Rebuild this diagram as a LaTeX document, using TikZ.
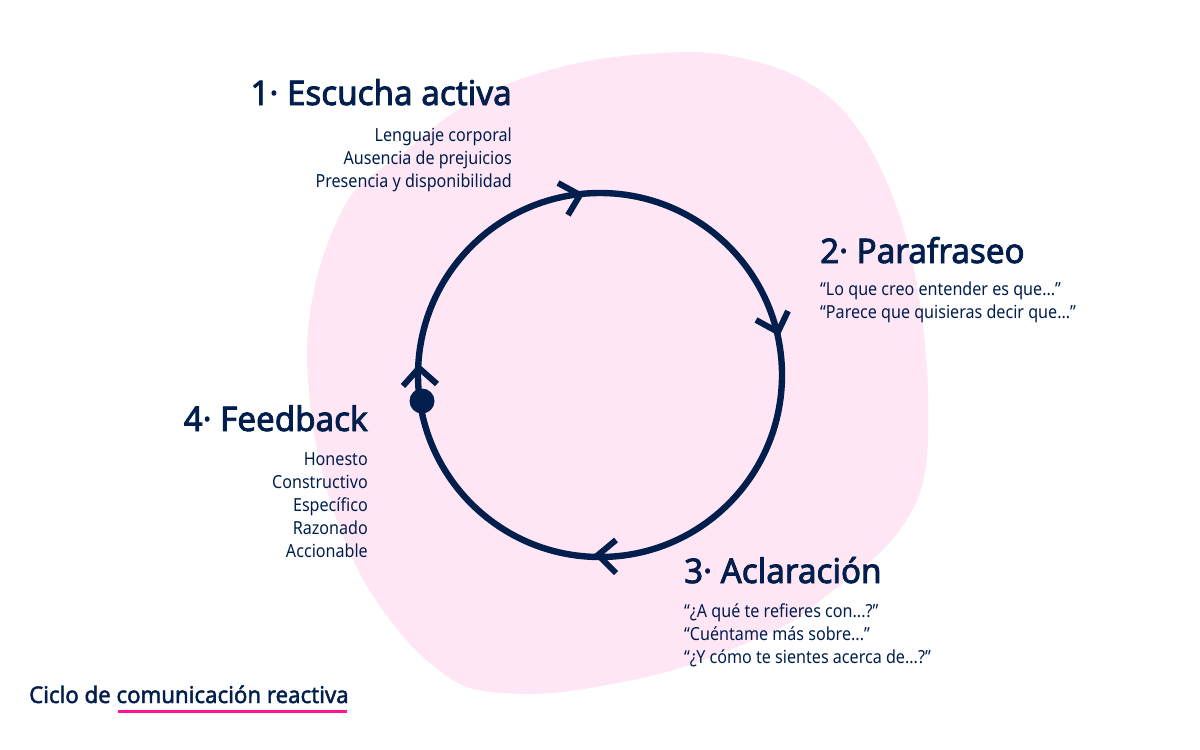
\documentclass[tikz,border=0pt]{standalone}
\usepackage{fontspec}
\setmainfont[FakeStretch=0.895]{Noto Sans}
\newfontfamily\headfont[FakeStretch=0.975,FakeBold=2.4]{Noto Sans}
\newfontfamily\titlefont[FakeStretch=0.965,FakeBold=1.8]{Noto Sans}
\definecolor{navy}{HTML}{011E4D}
\definecolor{blobpink}{HTML}{FFE6F5}
\definecolor{hotpink}{HTML}{FF1493}
\tikzset{
  heading/.style={anchor=base east,inner sep=0pt,text=navy,font=\fontsize{34}{40}\headfont},
  headingl/.style={heading,anchor=base west},
  bodytext/.style={anchor=base east,inner sep=0pt,text=navy,align=right,font=\fontsize{18}{23}\selectfont},
  bodytextl/.style={bodytext,anchor=base west,align=left},
  ring/.style={draw=navy,line width=6.4pt,outer sep=0pt},
  chevron/.style={draw=navy,line width=6pt},
}
\begin{document}
\begin{tikzpicture}[x=1pt,y=-1pt]
\useasboundingbox (0,0) rectangle (1200,750);
\fill[blobpink] plot[smooth cycle,tension=0.55] coordinates {
 (690,52) (750,60) (800,78) (840,107) (873,153) (900,217) (918,290) (927,370) (928,440)
 (921,490) (900,530) (870,562) (830,593) (780,628) (680,668) (590,688) (527,694) (467,687)
 (423,657) (390,620) (358,570) (330,500) (313,427) (307,350) (315,285) (333,230) (357,188)
 (407,150) (453,113) (510,83) (593,60)};
\node[ring,circle,minimum size=364pt,inner sep=0pt] (cycle) at (600,375) {};
\coordinate (t1) at (580,195); \coordinate (a1) at (558,183); \coordinate (b1) at (568,215);
\coordinate (t2) at (778,332); \coordinate (a2) at (756,320); \coordinate (b2) at (788,311);
\coordinate (t3) at (598,555); \coordinate (a3) at (616,540); \coordinate (b3) at (616,573);
\coordinate (t4) at (419,368); \coordinate (a4) at (403,386); \coordinate (b4) at (437,384);
\draw[chevron] (a1)--(t1)--(b1);
\draw[chevron] (a2)--(t2)--(b2);
\draw[chevron] (a3)--(t3)--(b3);
\draw[chevron] (a4)--(t4)--(b4);
\node[fill=navy,circle,minimum size=25pt,inner sep=0pt] (startdot) at (422,401) {};
\node[heading] (h1) at (512,105) {1· Escucha activa};
\node[bodytext] (b1txt) at (512,187) {Lenguaje corporal\\Ausencia de prejuicios\\Presencia y disponibilidad};
\node[headingl] (h2) at (820,263) {2· Parafraseo};
\node[bodytextl] (b2txt) at (820,318) {“Lo que creo entender es que...”\\“Parece que quisieras decir que...”};
\node[headingl] (h3) at (684,583) {3· Aclaración};
\node[bodytextl] (b3txt) at (684,663) {“¿A qué te refieres con...?”\\“Cuéntame más sobre...”\\“¿Y cómo te sientes acerca de...?”};
\node[heading] (h4) at (368,431) {4· Feedback};
\node[bodytext] (b4txt) at (368,557) {Honesto\\Constructivo\\Específico\\Razonado\\Accionable};
\node[anchor=base west,inner sep=0pt,text=navy,font=\fontsize{23}{28}\titlefont] (title) at (29,703) {Ciclo de comunicación reactiva};
\coordinate (u1) at (118,711); \coordinate (u2) at (347,711);
\draw[hotpink,line width=3pt] (u1)--(u2);
\end{tikzpicture}
\end{document}
